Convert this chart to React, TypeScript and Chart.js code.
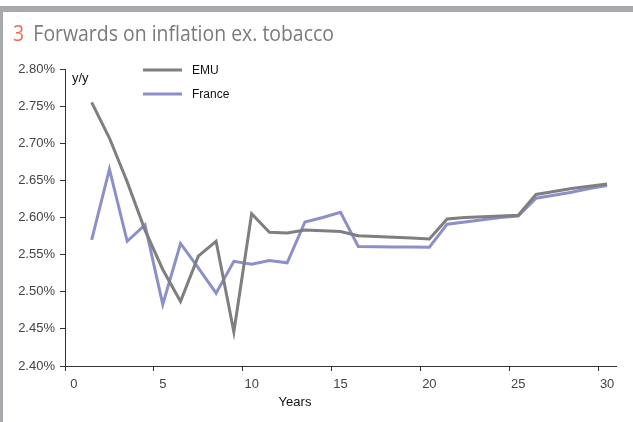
import React, { useEffect, useRef } from "react";
import { Chart, registerables } from "chart.js";

Chart.register(...registerables);

const xLabels = Array.from({ length: 31 }, (_, i) => String(i));
const years = [1, 2, 3, 4, 5, 6, 7, 8, 9, 10, 11, 12, 13, 14, 15, 16, 17, 18, 19, 20, 21, 22, 23, 24, 25, 26, 27, 28, 29, 30];
const emu = [2.755, 2.707, 2.648, 2.583, 2.53, 2.487, 2.548, 2.568, 2.446, 2.605, 2.58, 2.579, 2.583, 2.582, 2.581, 2.5755, 2.5745, 2.5735, 2.5725, 2.571, 2.598, 2.6, 2.601, 2.602, 2.603, 2.631, 2.635, 2.639, 2.642, 2.645];
const france = [2.57, 2.665, 2.568, 2.59, 2.483, 2.565, 2.532, 2.498, 2.541, 2.537, 2.542, 2.539, 2.594, 2.6, 2.607, 2.561, 2.5605, 2.5603, 2.5602, 2.56, 2.591, 2.594, 2.597, 2.6, 2.602, 2.626, 2.63, 2.634, 2.639, 2.643];
const seriesNames = ["EMU", "France"];
const seriesColors = ["#7f7f7f", "#8c90c8"];
const yMin = 2.4;
const yMax = 2.8;
const yStep = 0.05;
const xTickEvery = 5;
const yUnitLabel = "y/y";
const xTitle = "Years";

const FONT = "'Liberation Sans Narrow', 'Liberation Sans', sans-serif";

function toSeries(values: number[]) {
  const arr: (number | null)[] = xLabels.map(() => null);
  years.forEach((yr, i) => {
    arr[yr] = values[i];
  });
  return arr;
}

const overlayPlugin = {
  id: "overlayText",
  afterDraw(chart: any) {
    const { ctx, chartArea } = chart;
    const { left, top, bottom } = chartArea;
    ctx.save();
    ctx.fillStyle = "#111";
    ctx.font = `13px ${FONT}`;
    ctx.textAlign = "left";
    ctx.textBaseline = "alphabetic";
    ctx.fillText(yUnitLabel, left + 7, top + 13);
    const rows = [top + 1, top + 25];
    seriesNames.forEach((name, i) => {
      ctx.strokeStyle = seriesColors[i];
      ctx.lineWidth = 3;
      ctx.beginPath();
      ctx.moveTo(left + 78, rows[i]);
      ctx.lineTo(left + 117, rows[i]);
      ctx.stroke();
      ctx.fillStyle = "#111";
      ctx.font = `12px ${FONT}`;
      ctx.textBaseline = "middle";
      ctx.fillText(name, left + 127, rows[i] + 1);
    });
    ctx.font = `13px ${FONT}`;
    ctx.textAlign = "center";
    ctx.textBaseline = "middle";
    ctx.fillText(xTitle, left + 230, bottom + 36);
    ctx.restore();
  },
};

export default function App() {
  const ref = useRef<HTMLCanvasElement>(null);
  useEffect(() => {
    if (!ref.current) return;
    const chart = new Chart(ref.current, {
      type: "line",
      data: {
        labels: xLabels,
        datasets: [
          {
            label: seriesNames[0],
            data: toSeries(emu),
            borderColor: seriesColors[0],
            backgroundColor: seriesColors[0],
            borderWidth: 3,
            pointRadius: 0,
            tension: 0,
          },
          {
            label: seriesNames[1],
            data: toSeries(france),
            borderColor: seriesColors[1],
            backgroundColor: seriesColors[1],
            borderWidth: 3,
            pointRadius: 0,
            tension: 0,
          },
        ],
      },
      options: {
        animation: false,
        responsive: true,
        maintainAspectRatio: false,
        layout: { padding: { left: 0, top: 69, right: 17, bottom: 30 } },
        plugins: {
          legend: { display: false },
          tooltip: { enabled: false },
          title: { display: false },
        },
        scales: {
          x: {
            type: "category",
            offset: true,
            grid: {
              offset: true,
              drawOnChartArea: false,
              tickLength: 5,
              tickColor: (c: any) => (typeof c.index === "number" && c.index % xTickEvery === 0 ? "#333" : "rgba(0,0,0,0)"),
            },
            border: { color: "#333", width: 1 },
            ticks: {
              autoSkip: false,
              maxRotation: 0,
              padding: 6,
              color: "#444",
              font: { family: FONT, size: 13 },
              callback: (_v: any, i: number) => (i % xTickEvery === 0 ? xLabels[i] : ""),
            },
            afterFit: (s: any) => {
              s.height = 26;
            },
          },
          y: {
            min: yMin,
            max: yMax,
            grid: { drawOnChartArea: false, tickLength: 5, tickColor: "#333" },
            border: { color: "#333", width: 1 },
            ticks: {
              stepSize: yStep,
              padding: 5,
              color: "#444",
              font: { family: FONT, size: 13 },
              callback: (v: any) => Number(v).toFixed(2) + "%",
            },
            afterFit: (s: any) => {
              s.width = 65;
            },
          },
        },
      },
      plugins: [overlayPlugin],
    });
    return () => chart.destroy();
  }, []);

  return (
    <div style={{ position: "fixed", left: 0, top: 0, width: 633, height: 422, background: "#fff", overflow: "hidden" }}>
      <div style={{ position: "absolute", left: 0, top: 6, width: 633, height: 6, background: "#a7a9ac" }} />
      <div style={{ position: "absolute", left: 0, top: 6, width: 3, height: 416, background: "#a7a9ac" }} />
      <div
        style={{
          position: "absolute",
          left: 13,
          top: 22,
          lineHeight: "22px",
          fontSize: 21,
          fontFamily: "'Open Sans', sans-serif",
          color: "#7a7a7a",
          whiteSpace: "nowrap",
          transformOrigin: "left top",
          transform: "scaleX(0.925)",
          zIndex: 2,
        }}
      >
        <span style={{ color: "#e8704f" }}>3</span>
        <span style={{ marginLeft: 10 }}>Forwards on inflation ex. tobacco</span>
      </div>
      <div style={{ position: "absolute", left: 0, top: 0, width: 633, height: 422 }}>
        <canvas ref={ref} />
      </div>
    </div>
  );
}
